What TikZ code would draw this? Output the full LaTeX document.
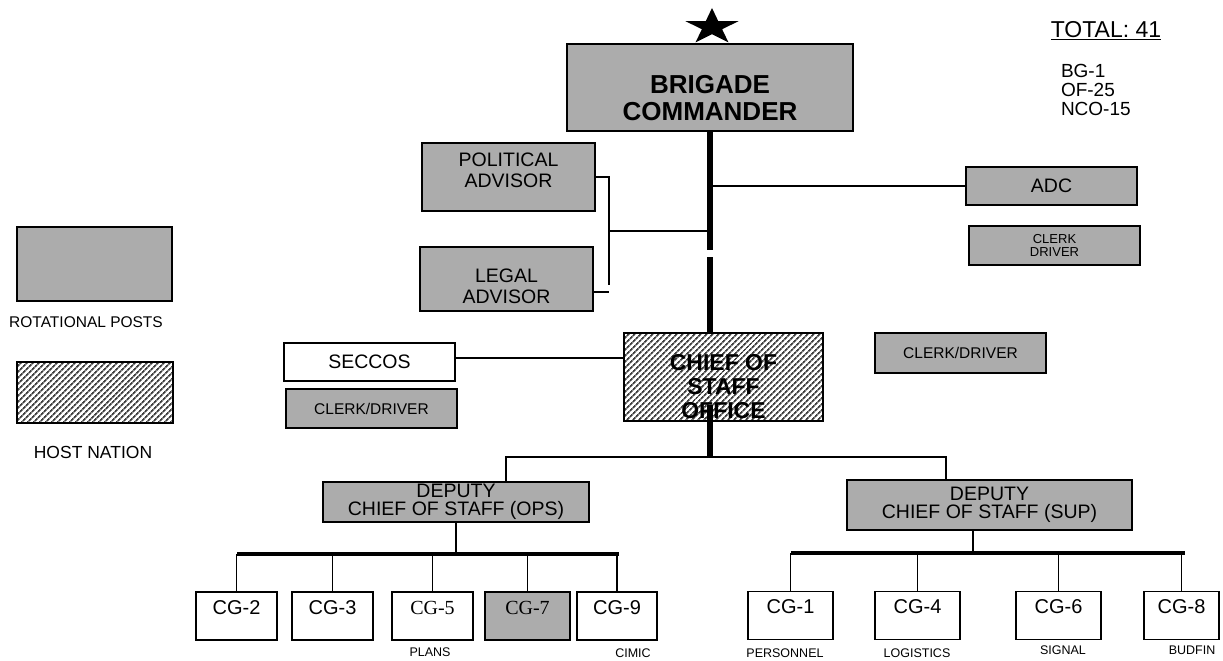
\documentclass[tikz,border=0pt]{standalone}
\usepackage{fontspec}
\setmainfont{Liberation Sans}
\newfontfamily\seriffont{Liberation Serif}
\usetikzlibrary{patterns.meta}
\definecolor{rotgray}{RGB}{172,172,172}
\newcommand\fsz[2]{\fontsize{#1}{#2}\selectfont}
\begin{document}
\begin{tikzpicture}[x=1pt,y=-1pt,
  box/.style={draw=black, line width=1.3pt, inner sep=0pt, outer sep=0pt, align=center},
  rotbox/.style={box, fill=rotgray},
  hostbox/.style={box, pattern={Lines[angle=45,distance=4pt,line width=1.8pt]}, pattern color=black!75},
  plainbox/.style={box, fill=white},
  conn/.style={line width=1.2pt},
  thickconn/.style={line width=5.5pt},
  barline/.style={line width=4pt},
  lbl/.style={inner sep=0pt, outer sep=0pt, align=center},
  cgbox/.style={minimum height=48pt, text height=14pt, text depth=18pt, font=\fsz{20}{22}},
  sublbl/.style={lbl, font=\fsz{12.5}{14}},
]
\useasboundingbox (0,0) rectangle (1223,661);

% star
\begin{scope}[shift={(712,27)}, xscale=1.4, yscale=-0.95]
  \fill (90:20) -- (126:7.6) -- (162:20) -- (198:7.6) -- (234:20) -- (270:7.6)
        -- (306:20) -- (342:7.6) -- (18:20) -- (54:7.6) -- cycle;
\end{scope}

% top boxes
\node[rotbox, minimum width=286pt, minimum height=87pt] (bc) at (710,87.5) {};
\node[lbl, font=\bfseries\fsz{26}{27}] (bct) at (710,98) {BRIGADE\\COMMANDER};

\node[rotbox, minimum width=173pt, minimum height=68pt] (pa) at (508.5,177) {};
\node[lbl, font=\fsz{19.5}{21}] (pat) at (508.5,170) {POLITICAL\\ADVISOR};
\node[rotbox, minimum width=173pt, minimum height=64pt] (la) at (506.5,279) {};
\node[lbl, font=\fsz{19.5}{21}] (lat) at (506.5,286) {LEGAL\\ADVISOR};

\node[rotbox, minimum width=171pt, minimum height=38pt, font=\fsz{19.5}{20}] (adc) at (1051.5,186) {ADC};
\node[rotbox, minimum width=171pt, minimum height=39pt, font=\fsz{13}{12.5}] (cd1) at (1054.5,245.5) {CLERK\\DRIVER};
\node[rotbox, minimum width=171pt, minimum height=40pt, font=\fsz{15.5}{17}] (cd2) at (960.5,353) {CLERK/DRIVER};

\node[plainbox, minimum width=171pt, minimum height=38pt, font=\fsz{19.5}{20}] (seccos) at (369.5,362) {SECCOS};
\node[rotbox, minimum width=171pt, minimum height=39pt, font=\fsz{15.5}{17}] (cd3) at (371.5,408.5) {CLERK/DRIVER};

\node[hostbox, minimum width=199pt, minimum height=88pt] (cos) at (723.5,377) {};
\node[lbl, font=\bfseries\fsz{23}{24}] (cost) at (723.5,387) {CHIEF OF\\STAFF\\OFFICE};

% legend
\node[rotbox, minimum width=155pt, minimum height=74pt] (rotleg) at (94.5,264) {};
\node[lbl, font=\fsz{15.5}{17}] (rotlegt) at (86,322) {ROTATIONAL POSTS};
\node[hostbox, minimum width=156pt, minimum height=61pt] (hostleg) at (95,392.5) {};
\node[lbl, font=\fsz{17.5}{19}] (hostlegt) at (93,452) {HOST NATION};

% totals
\node[lbl, font=\fsz{23}{25}] (total) at (1106,31) {\underline{TOTAL: 41}};
\node[lbl, anchor=north west, align=left, font=\fsz{19}{19}] (counts) at (1061,64) {BG-1\\OF-25\\NCO-15};

% deputies
\node[rotbox, minimum width=266pt, minimum height=40pt, font=\fsz{19.5}{18.5}] (dops) at (456,502) {DEPUTY\\CHIEF OF STAFF (OPS)};
\node[rotbox, minimum width=285pt, minimum height=50pt, font=\fsz{19.5}{18.5}] (dsup) at (989.5,505) {DEPUTY\\CHIEF OF STAFF (SUP)};

% CG boxes
\node[plainbox, cgbox, minimum width=81pt] (cg2) at (236.5,616) {CG-2};
\node[plainbox, cgbox, minimum width=81pt] (cg3) at (332.5,616) {CG-3};
\node[plainbox, cgbox, minimum width=81pt, font=\seriffont\fsz{20}{22}] (cg5) at (432.5,616) {CG-5};
\node[rotbox, cgbox, minimum width=85pt, font=\seriffont\fsz{20}{22}] (cg7) at (527.5,616) {CG-7};
\node[plainbox, cgbox, minimum width=80pt] (cg9) at (617,616) {CG-9};

\node[plainbox, cgbox, minimum width=85pt] (cg1) at (790.5,615.5) {CG-1};
\node[plainbox, cgbox, minimum width=85pt] (cg4) at (917.5,615.5) {CG-4};
\node[plainbox, cgbox, minimum width=85pt] (cg6) at (1058.5,615.5) {CG-6};
\node[plainbox, cgbox, minimum width=75pt] (cg8) at (1181.5,615.5) {CG-8};

\node[sublbl] (plans) at (430,652) {PLANS};
\node[sublbl] (cimic) at (633,653.5) {CIMIC};
\node[sublbl] (pers) at (785,653) {PERSONNEL};
\node[sublbl] (logi) at (917,653) {LOGISTICS};
\node[sublbl] (sig) at (1063,650) {SIGNAL};
\node[sublbl] (bud) at (1192,650) {BUDFIN};

% coordinates
\coordinate (gapTop) at (710,250);
\coordinate (gapBot) at (710,257);
\coordinate (adcJ) at (710,186);
\coordinate (brT) at (609,177);
\coordinate (brE) at (609,285);
\coordinate (brM) at (609,231);
\coordinate (brB) at (609,292);
\coordinate (secY) at (0,358);
\coordinate (cosLow) at (710,405);
\coordinate (cosJ) at (710,457);
\coordinate (hL) at (506,457);
\coordinate (hR) at (946,457);
\coordinate (opsL) at (237,554);
\coordinate (opsR) at (619,554);
\coordinate (supV) at (973,553);
\coordinate (supL) at (791,553);
\coordinate (supR) at (1185,553);

% connectors
\draw[thickconn] (bc.south) -- (gapTop);
\draw[thickconn] (gapBot) -- (gapBot |- cos.north);
\draw[conn] (adcJ) -- (adc.west);
\draw[conn] (pa.east) -- (brT) -- (brE);
\draw[conn] (la.east |- brB) -- (brB);
\draw[conn] (brM) -- (brM -| bc.south);
\draw[conn] (seccos.east |- secY) -- (cos.west |- secY);
\draw[thickconn] (cosLow) -- (cosJ);
\draw[conn] (hL |- dops.north) -- (hL) -- (hR) -- (hR |- dsup.north);

\draw[conn] (dops.south) -- (dops.south |- opsL);
\draw[barline] (opsL) -- (opsR);
\foreach \n in {cg2,cg3,cg5,cg7,cg9} \draw[conn] (\n.north |- opsL) -- (\n.north);

\draw[conn] (supV |- dsup.south) -- (supV);
\draw[barline] (supL) -- (supR);
\foreach \n in {cg1,cg4,cg6,cg8} \draw[conn] (\n.north |- supL) -- (\n.north);
\end{tikzpicture}
\end{document}
